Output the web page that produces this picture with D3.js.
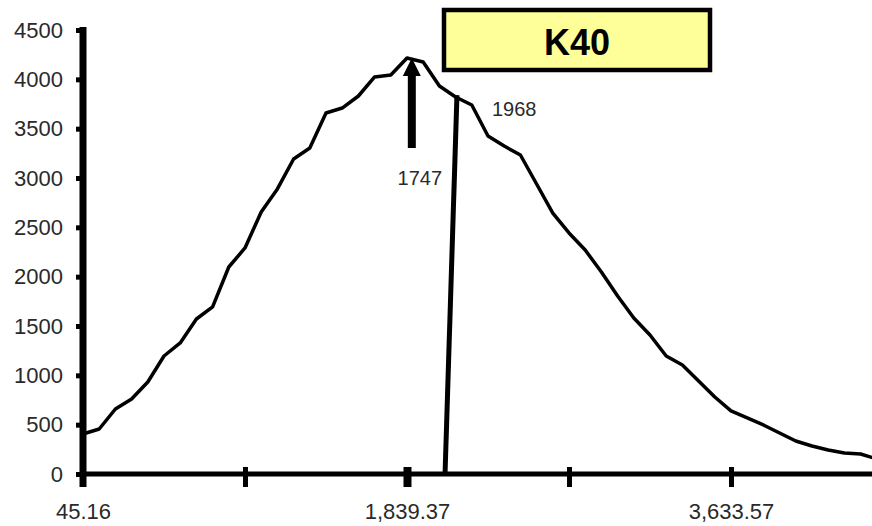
<!DOCTYPE html>
<html>
<head>
<meta charset="utf-8">
<script src="https://cdn.jsdelivr.net/npm/d3@7"></script>
<style>
  body { margin: 0; background: #fff; }
  svg { display: block; }
</style>
</head>
<body>
<script>
// the canvas size
var width = 872
var height = 526

// channel energies along the x axis (one point every tenth of a tick step)
const energy = [45.16, 134.87, 224.58, 314.29, 404.00, 493.71, 583.42, 673.13, 762.84, 852.55,
  942.27, 1031.98, 1121.69, 1211.40, 1301.11, 1390.82, 1480.53, 1570.24, 1659.95, 1749.66,
  1839.37, 1929.08, 2018.79, 2108.50, 2198.21, 2287.92, 2377.63, 2467.34, 2557.05, 2646.76,
  2736.48, 2826.19, 2915.90, 3005.61, 3095.32, 3185.03, 3274.74, 3364.45, 3454.16, 3543.87,
  3633.57, 3723.28, 3812.99, 3902.70, 3992.41, 4082.12, 4171.83, 4261.54, 4351.25, 4440.96]

// counts
const counts = [405, 456, 659, 760, 932, 1196, 1328, 1571, 1693, 2098,
  2291, 2655, 2889, 3193, 3304, 3659, 3709, 3831, 4024, 4044,
  4216, 4176, 3932, 3821, 3740, 3426, 3324, 3233, 2939, 2645,
  2443, 2270, 2047, 1804, 1581, 1409, 1196, 1105, 943, 780,
  639, 568, 497, 416, 334, 284, 243, 213, 203, 152]

// axis ticks
const yTicks = [0, 500, 1000, 1500, 2000, 2500, 3000, 3500, 4000, 4500]
const xTicks = [45.16, 942.27, 1839.37, 2736.48, 3633.57, 4530.68]
const xTickLabels = ["45.16", "", "1,839.37", "", "3,633.57", ""]

// annotations
const title = "K40"
const peakArrow = { label: "1747", x: 1866, from: 3304, tip: 4216 }
const cutLine = { label: "1968", x0: 2050, y0: 0, x1: 2116, y1: 3840 }

const FONT = "'Liberation Sans', Arial, sans-serif"
const TEXT_COLOR = "#2a2a2a"

const svg = d3.select("body").append("svg")
  .attr("width", width)
  .attr("height", height)

var x = d3.scaleLinear()
  .domain([xTicks[0], xTicks[xTicks.length - 1]])
  .range([83, 893])

var y = d3.scaleLinear()
  .domain([0, 4500])
  .range([474, 30])

// y axis ticks + labels
var yAxis = svg.append("g")
  .attr("transform", "translate(" + x(xTicks[0]) + ",0)")
  .call(d3.axisLeft(y).tickValues(yTicks).tickFormat(d3.format("d")).tickSize(7).tickPadding(13).tickSizeOuter(0))
yAxis.select(".domain").remove()
yAxis.selectAll(".tick line").attr("stroke", "#000").attr("stroke-width", 5)
yAxis.selectAll(".tick text")
  .attr("font-family", FONT)
  .attr("font-size", "22px")
  .attr("fill", TEXT_COLOR)

// x axis ticks + labels
var xAxis = svg.append("g")
  .attr("transform", "translate(0," + y(0) + ")")
  .call(d3.axisBottom(x).tickValues(xTicks).tickFormat((d, i) => xTickLabels[i]).tickSizeOuter(0))
xAxis.select(".domain").remove()
xAxis.selectAll(".tick line")
  .attr("y1", -7).attr("y2", 13)
  .attr("stroke", "#000")
  .attr("stroke-width", (d, i) => i == 2 ? 8 : 5)
xAxis.selectAll(".tick text")
  .attr("y", 45).attr("dy", 0)
  .attr("font-family", FONT)
  .attr("font-size", "22px")
  .attr("fill", TEXT_COLOR)

// axis lines (thick, as in the scan)
svg.append("line")
  .attr("x1", x(xTicks[0])).attr("x2", width)
  .attr("y1", y(0)).attr("y2", y(0))
  .attr("stroke", "#000").attr("stroke-width", 5)
svg.append("line")
  .attr("x1", x(xTicks[0])).attr("x2", x(xTicks[0]))
  .attr("y1", y(4500) - 3).attr("y2", y(0) + 13)
  .attr("stroke", "#000").attr("stroke-width", 7)

// the spectrum
var line = d3.line()
  .x((d, i) => x(energy[i]))
  .y(d => y(d))

svg.append("path")
  .datum(counts)
  .attr("d", line)
  .attr("fill", "none")
  .attr("stroke", "#000")
  .attr("stroke-width", 3.5)
  .attr("stroke-linejoin", "round")

// peak arrow
var ax = x(peakArrow.x)
var tipY = y(peakArrow.tip)
svg.append("line")
  .attr("x1", ax).attr("x2", ax)
  .attr("y1", y(peakArrow.from)).attr("y2", tipY + 12)
  .attr("stroke", "#000").attr("stroke-width", 8)
svg.append("path")
  .attr("d", "M" + ax + "," + tipY + "L" + (ax + 9) + "," + (tipY + 18) + "L" + (ax - 9) + "," + (tipY + 18) + "Z")
  .attr("fill", "#000")
svg.append("text")
  .attr("x", ax + 8).attr("y", y(peakArrow.from) + 37)
  .attr("text-anchor", "middle")
  .attr("font-family", FONT).attr("font-size", "20px")
  .attr("fill", TEXT_COLOR)
  .text(peakArrow.label)

// cut line
svg.append("line")
  .attr("x1", x(cutLine.x0)).attr("y1", y(cutLine.y0))
  .attr("x2", x(cutLine.x1)).attr("y2", y(cutLine.y1))
  .attr("stroke", "#000").attr("stroke-width", 5)
svg.append("text")
  .attr("x", x(cutLine.x1) + 35).attr("y", y(cutLine.y1) + 21)
  .attr("font-family", FONT).attr("font-size", "20px")
  .attr("fill", TEXT_COLOR)
  .text(cutLine.label)

// title box
svg.append("rect")
  .attr("x", 444).attr("y", 10)
  .attr("width", 266).attr("height", 60)
  .attr("fill", "#ffff99")
  .attr("stroke", "#000").attr("stroke-width", 4.5)
svg.append("text")
  .attr("x", 577).attr("y", 55)
  .attr("text-anchor", "middle")
  .attr("font-family", FONT).attr("font-size", "36px").attr("font-weight", "bold")
  .attr("fill", "#000")
  .text(title)
</script>
</body>
</html>
